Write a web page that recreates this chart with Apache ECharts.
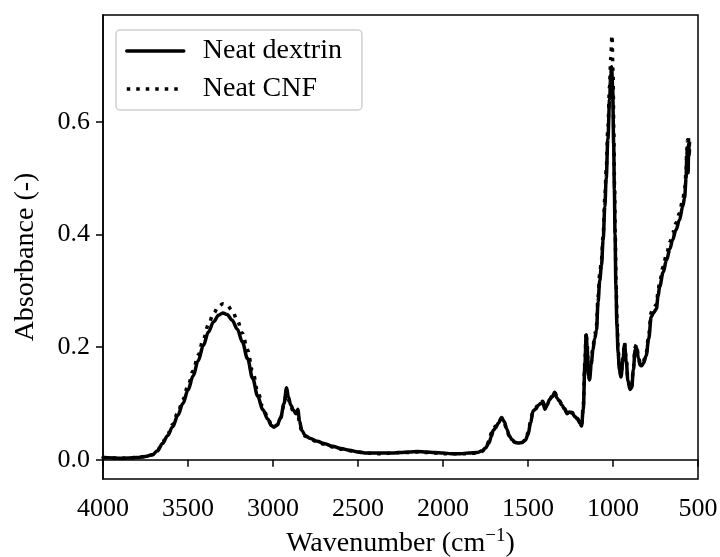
<!DOCTYPE html>
<html>
<head>
<meta charset="utf-8">
<script src="https://cdn.jsdelivr.net/npm/echarts@6/dist/echarts.min.js"></script>
<style>html,body{margin:0;padding:0;background:#fff}#c{width:720px;height:557px}</style>
</head>
<body>
<div id="c"></div>
<script>
// Wavenumbers (cm^-1) and absorbance values
var dextrinWn = [4000,3900,3800,3750,3710,3680,3650,3620,3590,3560,3530,3500,3470,3440,3410,3380,3350,3320,3295,3270,3240,3210,3180,3150,3120,3090,3060,3030,3010,2995,2975,2955,2935,2920,2910,2895,2880,2865,2853,2845,2830,2810,2780,2740,2700,2650,2600,2550,2500,2450,2400,2350,2300,2250,2200,2150,2100,2050,2000,1950,1900,1850,1800,1770,1750,1730,1715,1705,1690,1675,1655,1640,1625,1610,1595,1575,1555,1535,1515,1500,1485,1470,1455,1440,1425,1414,1400,1388,1373,1358,1343,1330,1315,1300,1285,1270,1255,1240,1225,1210,1195,1185,1175,1165,1158,1152,1145,1138,1128,1118,1108,1097,1088,1078,1068,1058,1048,1040,1030,1020,1013,1008,1002,996,992,988,983,977,970,962,953,942,932,922,912,900,890,880,870,862,850,840,832,820,805,790,775,760,745,735,726,705,685,665,650,630,609,590,579,570,566,562,558,555,552,550];
var dextrinAbs = [0.004,0.003,0.004,0.006,0.009,0.016,0.029,0.043,0.059,0.079,0.100,0.124,0.149,0.176,0.203,0.227,0.245,0.257,0.261,0.258,0.248,0.232,0.209,0.180,0.145,0.113,0.089,0.072,0.061,0.058,0.062,0.075,0.100,0.128,0.112,0.097,0.088,0.082,0.090,0.070,0.052,0.043,0.038,0.033,0.029,0.024,0.020,0.017,0.014,0.012,0.012,0.012,0.012,0.013,0.014,0.015,0.014,0.013,0.012,0.011,0.011,0.012,0.013,0.016,0.021,0.030,0.042,0.052,0.057,0.065,0.075,0.068,0.055,0.043,0.036,0.031,0.030,0.031,0.035,0.045,0.065,0.087,0.090,0.097,0.100,0.103,0.090,0.097,0.107,0.112,0.120,0.110,0.104,0.097,0.090,0.082,0.085,0.083,0.077,0.073,0.065,0.060,0.090,0.170,0.222,0.200,0.150,0.142,0.170,0.195,0.215,0.230,0.280,0.318,0.345,0.390,0.450,0.500,0.570,0.640,0.685,0.698,0.660,0.560,0.480,0.400,0.310,0.240,0.190,0.160,0.147,0.175,0.205,0.175,0.140,0.125,0.128,0.160,0.195,0.200,0.180,0.168,0.167,0.172,0.185,0.215,0.254,0.262,0.268,0.290,0.307,0.333,0.355,0.375,0.390,0.408,0.426,0.450,0.465,0.500,0.540,0.555,0.510,0.560,0.540,0.550];

var cnfWn = [4000,3900,3800,3750,3710,3680,3650,3620,3590,3560,3530,3500,3470,3440,3410,3380,3350,3320,3295,3270,3240,3210,3180,3150,3120,3090,3060,3030,3010,2995,2975,2955,2935,2920,2910,2895,2880,2865,2853,2845,2830,2810,2780,2740,2700,2650,2600,2550,2500,2450,2400,2350,2300,2250,2200,2150,2100,2050,2000,1950,1900,1850,1800,1770,1750,1730,1715,1705,1690,1675,1655,1640,1625,1610,1595,1575,1555,1535,1515,1500,1485,1470,1455,1440,1425,1414,1400,1388,1373,1358,1343,1330,1315,1300,1285,1270,1255,1240,1225,1210,1195,1185,1175,1165,1158,1152,1145,1138,1128,1118,1108,1097,1088,1078,1068,1058,1048,1040,1030,1020,1013,1006,1000,995,991,987,982,976,969,961,953,942,932,922,912,900,890,880,870,862,850,840,832,820,805,790,775,760,745,735,726,705,685,665,650,630,609,590,579,570,566,562,558,555,552,550];
var cnfAbs = [0.004,0.003,0.004,0.006,0.009,0.017,0.031,0.046,0.063,0.084,0.107,0.132,0.158,0.186,0.214,0.240,0.260,0.273,0.277,0.275,0.265,0.248,0.225,0.195,0.158,0.122,0.094,0.074,0.063,0.059,0.062,0.074,0.098,0.124,0.108,0.094,0.086,0.080,0.086,0.067,0.050,0.042,0.037,0.032,0.028,0.023,0.019,0.016,0.014,0.012,0.011,0.011,0.012,0.013,0.013,0.014,0.013,0.012,0.011,0.011,0.011,0.011,0.012,0.015,0.020,0.033,0.048,0.056,0.060,0.066,0.074,0.066,0.053,0.042,0.035,0.031,0.030,0.031,0.036,0.048,0.068,0.088,0.092,0.098,0.101,0.104,0.092,0.099,0.108,0.113,0.121,0.111,0.105,0.098,0.091,0.083,0.086,0.084,0.078,0.074,0.066,0.062,0.095,0.175,0.226,0.205,0.155,0.145,0.175,0.200,0.222,0.240,0.290,0.330,0.355,0.400,0.465,0.515,0.590,0.665,0.715,0.754,0.690,0.580,0.490,0.405,0.315,0.245,0.192,0.162,0.150,0.180,0.208,0.178,0.143,0.128,0.131,0.165,0.200,0.205,0.183,0.171,0.170,0.176,0.190,0.222,0.262,0.270,0.276,0.298,0.316,0.343,0.366,0.387,0.402,0.420,0.438,0.462,0.478,0.512,0.552,0.568,0.525,0.572,0.552,0.565];

var yTicks = [0, 0.2, 0.4, 0.6];
var xTickInterval = 500;
var seriesNames = ['Neat dextrin', 'Neat CNF'];

function pairs(xs, ys) { return xs.map(function (x, i) { return [x, ys[i]]; }); }

var FONT = 'Liberation Serif';
var chart = echarts.init(document.getElementById('c'), null, { renderer: 'canvas' });
chart.setOption({
  animation: false,
  backgroundColor: '#fff',
  grid: { left: 103, right: 22, top: 15, bottom: 78, outerBoundsMode: 'none', containLabel: false, show: true, borderColor: '#000', borderWidth: 1.5, backgroundColor: 'transparent' },
  legend: {
    orient: 'vertical', left: 116, top: 30,
    padding: [7, 20, 7, 9],
    itemWidth: 57, itemHeight: 20, itemGap: 10,
    backgroundColor: 'rgba(255,255,255,0.8)',
    borderColor: '#d0d0d0', borderWidth: 1.5, borderRadius: 4,
    itemStyle: { opacity: 0 },
    lineStyle: { width: 3.5 },
    textStyle: { fontFamily: FONT, fontSize: 28, color: '#000', lineHeight: 20, padding: [0, 0, 0, 14] },
    data: seriesNames
  },
  xAxis: {
    type: 'value', min: 500, max: 4000, interval: xTickInterval, inverse: true,
    name: 'Wavenumber (cm{sup|−1})', nameLocation: 'middle', nameGap: 48,
    nameTextStyle: { fontFamily: FONT, fontSize: 28, color: '#000', rich: { sup: { fontFamily: FONT, fontSize: 19, verticalAlign: 'top', padding: [0, 0, 14, 0], color: '#000' } } },
    axisLine: { show: true, lineStyle: { color: '#000', width: 1.5 } },
    axisTick: { show: true, inside: false, length: 7, lineStyle: { color: '#000', width: 1.5 } },
    axisLabel: { fontFamily: FONT, fontSize: 26, color: '#000', margin: 17, formatter: function (v) { return String(v); } },
    splitLine: { show: false }
  },
  yAxis: {
    type: 'value', min: -0.034, max: 0.79,
    name: 'Absorbance (-)', nameLocation: 'middle', nameGap: 63,
    nameTextStyle: { fontFamily: FONT, fontSize: 28, color: '#000', padding: [0, 20, 0, 0] },
    axisLine: { show: true, lineStyle: { color: '#000', width: 1.5 } },
    axisTick: { show: true, inside: false, length: 7, customValues: yTicks, lineStyle: { color: '#000', width: 1.5 } },
    axisLabel: { fontFamily: FONT, fontSize: 26, color: '#000', margin: 13, customValues: yTicks, formatter: function (v) { return v.toFixed(1); } },
    splitLine: { show: false }
  },
  series: [
    { name: seriesNames[0], type: 'line', data: pairs(dextrinWn, dextrinAbs), showSymbol: false, symbol: 'none', smooth: 0.35, smoothMonotone: 'x', lineStyle: { color: '#000', width: 3.5, type: 'solid', join: 'round', cap: 'round' }, itemStyle: { color: '#000' }, z: 2 },
    { name: seriesNames[1], type: 'line', data: pairs(cnfWn, cnfAbs), showSymbol: false, symbol: 'none', smooth: 0.35, smoothMonotone: 'x', lineStyle: { color: '#000', width: 3.5, type: [3.5, 6], cap: 'butt' }, itemStyle: { color: '#000' }, z: 3 }
  ]
});
</script>
</body>
</html>
